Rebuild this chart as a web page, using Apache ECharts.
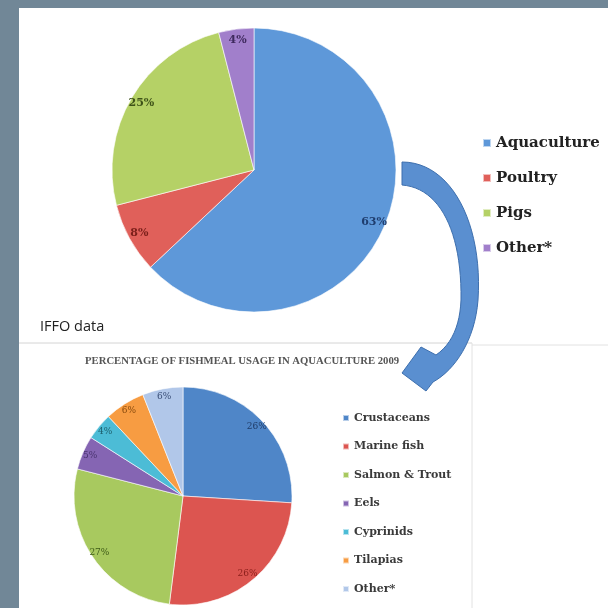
<!DOCTYPE html>
<html><head><meta charset="utf-8">
<script src="https://cdn.jsdelivr.net/npm/echarts@6/dist/echarts.min.js"></script>
<style>html,body{margin:0;padding:0;background:#718797}#c{width:608px;height:608px}</style>
</head><body><div id="c"></div>
<script>
// ---- data ----
const feedCategories = ['Aquaculture', 'Poultry', 'Pigs', 'Other*'];
const feedShares = [63, 8, 25, 4];
const aquaCategories = ['Crustaceans', 'Marine fish', 'Salmon & Trout', 'Eels', 'Cyprinids', 'Tilapias', 'Other* '];
const aquaShares = [26, 26, 27, 5, 4, 6, 6];
const chartTitle = 'PERCENTAGE OF FISHMEAL USAGE IN AQUACULTURE 2009';
const sourceNote = 'IFFO data';

// ---- styles ----
const feedColors = ['#5e98d9', '#e0605a', '#b5d166', '#a17fcb'];
const feedLabelColors = ['#1f3d6e', '#7a1f1a', '#3e5218', '#3f2a5e'];
const aquaColors = ['#4f86c8', '#dc5550', '#a8c95f', '#8565b3', '#4cbcd6', '#f79c42', '#b1c7e9'];
const aquaLabelColors = ['#1f3b66', '#8b1e1a', '#3d5a17', '#4a3470', '#1d5f6d', '#8a4c0f', '#3a4f78'];

const serif = 'DejaVu Serif';

function mk(names, vals, colors, labelColors) {
  return names.map((n, i) => ({
    name: n, value: vals[i],
    itemStyle: { color: colors[i] },
    label: { color: labelColors[i] }
  }));
}

function cubic(a, b, c, d, n) {
  const pts = [];
  for (let i = 0; i <= n; i++) {
    const t = i / n, u = 1 - t;
    pts.push([
      u*u*u*a[0] + 3*u*u*t*b[0] + 3*u*t*t*c[0] + t*t*t*d[0],
      u*u*u*a[1] + 3*u*u*t*b[1] + 3*u*t*t*c[1] + t*t*t*d[1]
    ]);
  }
  return pts;
}
const arrowPts = [].concat(
  cubic([402,162],[452,162],[483,225],[478,300],24),
  cubic([478,300],[475,340],[455,370],[433,382],16),
  [[426,391],[402,373],[421,347]],
  cubic([436,355],[452,344],[460,325],[461,300],12),
  cubic([461,300],[462,232],[440,188],[402,185],24)
);

const chart = echarts.init(document.getElementById('c'));
const pieTop = { center: [254, 170], r: 142 };
const pieBot = { center: [183, 496], r: 109 };

chart.setOption({
  backgroundColor: '#718797',
  animation: false,
  title: [
    { text: chartTitle, left: 80, top: 351,
      textStyle: { fontFamily: 'Liberation Serif', fontWeight: 'bold', fontSize: 10.7, color: '#555' } },
    { text: sourceNote, left: 35, top: 314,
      textStyle: { fontFamily: 'Open Sans', fontWeight: 'normal', fontSize: 14.5, color: '#222' } }
  ],
  legend: [
    { data: feedCategories, orient: 'vertical', left: 477, top: 128,
      itemWidth: 8, itemHeight: 8, itemGap: 15, icon: 'rect', selectedMode: false,
      textStyle: { fontFamily: serif, fontWeight: 'bold', fontSize: 15, lineHeight: 20, color: '#222' } },
    { data: aquaCategories, orient: 'vertical', left: 337, top: 405,
      itemWidth: 6, itemHeight: 6, itemGap: 12.5, icon: 'rect', selectedMode: false,
      textStyle: { fontFamily: serif, fontWeight: 'bold', fontSize: 11, lineHeight: 16, color: '#3a3a3a' } }
  ],
  graphic: { elements: [
    { type: 'rect', z: 0, shape: { x: 19, y: 8, width: 589, height: 600 }, style: { fill: '#ffffff' } },
    { type: 'line', z: 1, shape: { x1: 19, y1: 343, x2: 472, y2: 343 }, style: { stroke: '#d4d4d4', lineWidth: 1 } },
    { type: 'line', z: 1, shape: { x1: 472, y1: 343, x2: 472, y2: 608 }, style: { stroke: '#e2e2e2', lineWidth: 1 } },
    { type: 'line', z: 1, shape: { x1: 472, y1: 345, x2: 608, y2: 345 }, style: { stroke: '#e2e2e2', lineWidth: 1 } },
    { type: 'polygon', z: 10, shape: { points: arrowPts },
      style: { fill: '#5a8fd0', stroke: '#3d6fae', lineWidth: 1 } }
  ] },
  series: [
    { type: 'pie', center: pieTop.center, radius: [0, pieTop.r], startAngle: 90, clockwise: true,
      label: { show: false }, labelLine: { show: false }, silent: true,
      itemStyle: { borderColor: 'rgba(255,255,255,0.6)', borderWidth: 1 },
      data: mk(feedCategories, feedShares, feedColors, feedLabelColors) },
    { type: 'pie', center: pieBot.center, radius: [0, pieBot.r], startAngle: 90, clockwise: true,
      label: { show: false }, labelLine: { show: false }, silent: true,
      itemStyle: { borderColor: 'rgba(255,255,255,0.6)', borderWidth: 1 },
      data: mk(aquaCategories, aquaShares, aquaColors, aquaLabelColors) },
    { type: 'pie', center: pieTop.center, radius: [pieTop.r * 0.8, pieTop.r], startAngle: 90, clockwise: true,
      silent: true, avoidLabelOverlap: false,
      itemStyle: { color: 'rgba(0,0,0,0)' },
      label: { show: true, position: 'inside', formatter: '{c}%', fontFamily: serif, fontWeight: 'bold', fontSize: 11 },
      data: mk(feedCategories, feedShares, feedColors.map(() => 'rgba(0,0,0,0)'), feedLabelColors) },
    { type: 'pie', center: pieBot.center, radius: [pieBot.r * 0.8, pieBot.r], startAngle: 90, clockwise: true,
      silent: true, avoidLabelOverlap: false,
      itemStyle: { color: 'rgba(0,0,0,0)' },
      label: { show: true, position: 'inside', formatter: '{c}%', fontFamily: serif, fontSize: 9 },
      data: mk(aquaCategories, aquaShares, aquaColors.map(() => 'rgba(0,0,0,0)'), aquaLabelColors) }
  ]
});
</script></body></html>
